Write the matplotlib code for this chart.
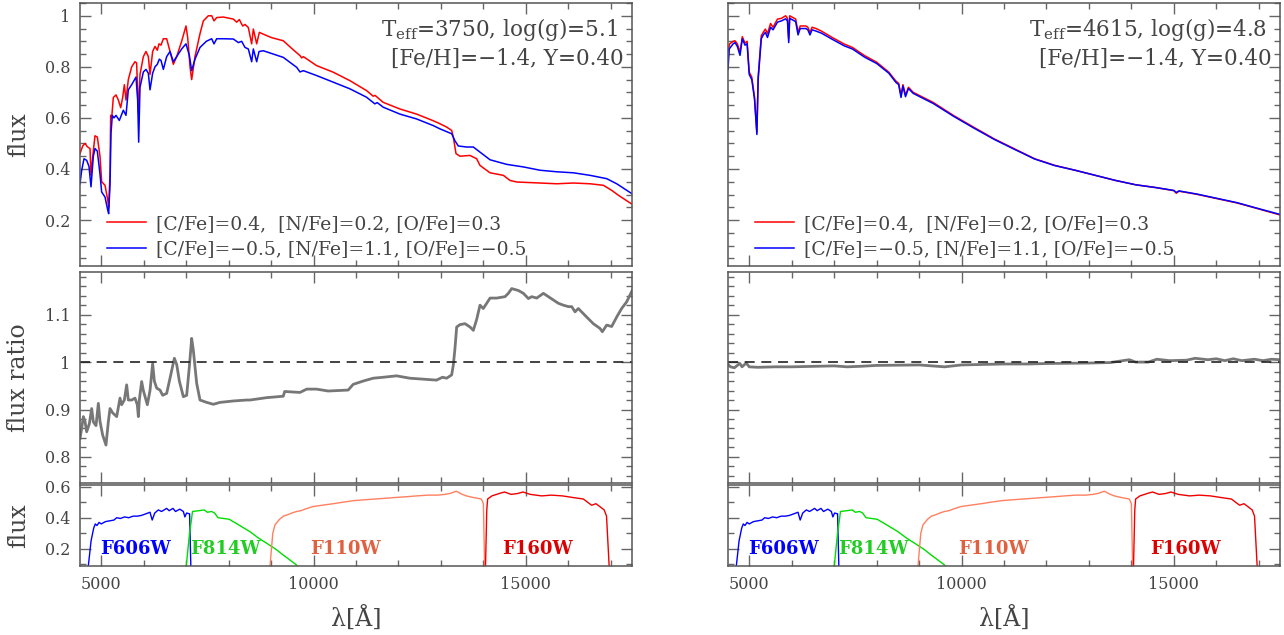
import numpy as np
import matplotlib
matplotlib.use("Agg")
import matplotlib.pyplot as plt
from matplotlib.ticker import MultipleLocator

plt.rcParams['font.family'] = ['DejaVu Serif']
plt.rcParams['mathtext.fontset'] = 'dejavuserif'

TXT = '#444444'
AXC = '#555555'

# ---- left star (Teff=3750) spectra ----
wl_red_l = [4500, 4563, 4618, 4673, 4736, 4759, 4800, 4853, 4908, 4971, 5010, 5089, 5152, 5175, 5207,
            5222, 5246, 5285, 5348, 5403, 5458, 5505, 5544, 5583, 5638, 5717, 5795, 5834, 5874, 5913,
            5992, 6054, 6109, 6149, 6211, 6266, 6321, 6360, 6408, 6463, 6541, 6620, 6698, 6777, 6894,
            6996, 7036, 7091, 7130, 7208, 7326, 7405, 7522, 7601, 7656, 7719, 7876, 8111, 8190, 8252,
            8331, 8386, 8464, 8543, 8582, 8661, 8723, 8817, 9000, 9288, 9500, 9681, 9720, 9760, 10070,
            10463, 10855, 11248, 11405, 11450, 11640, 12033, 12425, 12818, 12978, 13135, 13253, 13292,
            13355, 13449, 13685, 13842, 13920, 14000, 14157, 14471, 14628, 14785, 15335, 15727, 16120,
            16513, 16827, 17023, 17180, 17500]
fx_red_l = [0.46, 0.49, 0.50, 0.487, 0.48, 0.375, 0.45, 0.53, 0.525, 0.45, 0.35, 0.336, 0.28, 0.25, 0.38,
            0.61, 0.60, 0.68, 0.69, 0.67, 0.64, 0.68, 0.73, 0.67, 0.75, 0.80, 0.82, 0.815, 0.62, 0.77,
            0.84, 0.86, 0.84, 0.77, 0.86, 0.88, 0.865, 0.89, 0.885, 0.91, 0.91, 0.86, 0.81, 0.84, 0.90,
            0.96, 0.915, 0.80, 0.75, 0.84, 0.93, 0.98, 1.0, 1.0, 0.98, 0.993, 0.995, 0.987, 0.975, 0.985,
            0.96, 0.966, 0.954, 0.89, 0.948, 0.89, 0.935, 0.928, 0.915, 0.902, 0.87, 0.844, 0.835, 0.84, 0.805,
            0.779, 0.746, 0.707, 0.685, 0.688, 0.661, 0.635, 0.615, 0.589, 0.577, 0.564, 0.551, 0.525,
            0.46, 0.45, 0.453, 0.44, 0.414, 0.404, 0.385, 0.375, 0.355, 0.349, 0.345, 0.342, 0.345,
            0.342, 0.336, 0.316, 0.297, 0.262]

wl_blue_l = [4500, 4540, 4594, 4657, 4712, 4759, 4814, 4853, 4908, 4971, 5010, 5089, 5152, 5175, 5207,
             5230, 5261, 5300, 5348, 5426, 5520, 5583, 5638, 5717, 5819, 5858, 5882, 5913, 5992, 6054,
             6109, 6149, 6211, 6266, 6321, 6368, 6408, 6463, 6541, 6620, 6698, 6777, 6894, 6996, 7075,
             7130, 7208, 7326, 7475, 7601, 7656, 7719, 7876, 8111, 8229, 8307, 8386, 8464, 8543, 8582,
             8661, 8716, 8817, 9288, 9603, 9681, 9760, 10070, 10463, 10855, 11248, 11444, 11500, 11640,
             12033, 12425, 12818, 12978, 13253, 13331, 13410, 13606, 13763, 13920, 14157, 14549, 14942,
             15335, 15727, 16120, 16513, 16905, 17140, 17500]
fx_blue_l = [0.342, 0.395, 0.44, 0.434, 0.41, 0.33, 0.45, 0.48, 0.47, 0.38, 0.31, 0.29, 0.24, 0.225, 0.34,
             0.54, 0.61, 0.60, 0.61, 0.59, 0.63, 0.61, 0.71, 0.73, 0.76, 0.67, 0.505, 0.72, 0.78, 0.79,
             0.775, 0.71, 0.775, 0.80, 0.81, 0.83, 0.825, 0.79, 0.84, 0.86, 0.82, 0.84, 0.87, 0.89, 0.845,
             0.785, 0.83, 0.876, 0.90, 0.91, 0.89, 0.91, 0.91, 0.909, 0.895, 0.90, 0.876, 0.87, 0.82, 0.87,
             0.82, 0.86, 0.863, 0.837, 0.798, 0.78, 0.785, 0.766, 0.74, 0.714, 0.681, 0.655, 0.66, 0.642,
             0.615, 0.596, 0.57, 0.557, 0.538, 0.51, 0.49, 0.486, 0.486, 0.466, 0.436, 0.418, 0.408,
             0.395, 0.389, 0.385, 0.375, 0.362, 0.342, 0.303]

wl_ratio_l = [4500, 4539, 4579, 4618, 4657, 4720, 4775, 4814, 4877, 4932, 4971, 5034, 5112, 5167, 5207,
              5269, 5364, 5442, 5481, 5544, 5599, 5638, 5717, 5795, 5850, 5874, 5897, 5952, 5992, 6086,
              6149, 6211, 6251, 6306, 6384, 6447, 6541, 6620, 6722, 6777, 6840, 6934, 7012, 7075, 7130,
              7169, 7248, 7326, 7483, 7640, 7797, 8111, 8425, 8504, 8896, 9288, 9320, 9681, 9838, 10070,
              10345, 10816, 10933, 11169, 11405, 11640, 11954, 12268, 12582, 12896, 13037, 13135, 13253,
              13292, 13331, 13371, 13449, 13567, 13685, 13763, 13842, 13920, 13998, 14157, 14314, 14510,
              14588, 14667, 14824, 14942, 15060, 15138, 15256, 15413, 15530, 15766, 15884, 16001, 16080,
              16158, 16236, 16432, 16589, 16746, 16801, 16903, 17021, 17139, 17256, 17374, 17500]
fx_ratio_l = [0.839, 0.86, 0.885, 0.875, 0.853, 0.87, 0.902, 0.874, 0.866, 0.913, 0.875, 0.846, 0.825, 0.874, 0.902,
              0.893, 0.885, 0.924, 0.91, 0.92, 0.952, 0.92, 0.92, 0.924, 0.91, 0.885, 0.92, 0.959, 0.94, 0.91,
              0.94, 0.997, 0.96, 0.945, 0.941, 0.93, 0.934, 0.966, 1.008, 0.995, 0.96, 0.927, 0.93, 0.99, 1.05,
              1.025, 0.955, 0.92, 0.915, 0.911, 0.915, 0.918, 0.92, 0.92, 0.925, 0.928, 0.938, 0.936, 0.943, 0.943,
              0.939, 0.941, 0.953, 0.96, 0.966, 0.968, 0.971, 0.966, 0.964, 0.962, 0.968, 0.966, 0.973,
              0.994, 1.029, 1.074, 1.079, 1.081, 1.074, 1.067, 1.09, 1.12, 1.113, 1.135, 1.135, 1.138,
              1.145, 1.155, 1.151, 1.145, 1.134, 1.138, 1.135, 1.145, 1.138, 1.124, 1.12, 1.117, 1.117,
              1.106, 1.113, 1.095, 1.081, 1.071, 1.064, 1.078, 1.075, 1.095, 1.113, 1.127, 1.15]

# ---- right star (Teff=4615) spectra ----
wl_red_r = [4500, 4540, 4620, 4665, 4720, 4783, 4837, 4900, 4950, 5000, 5060, 5124, 5180, 5210, 5284,
            5330, 5380, 5430, 5503, 5560, 5665, 5760, 5857, 5900, 5930, 5953, 6094, 6150, 6200, 6335,
            6380, 6430, 6480, 6574, 6700, 6954, 7240, 7430, 7716, 8002, 8288, 8450, 8520, 8575, 8620,
            8680, 8750, 8862, 9338, 9815, 10292, 10768, 11245, 11722, 12199, 12674, 13151, 13628, 14104,
            14582, 15000, 15058, 15120, 15536, 16012, 16488, 16966, 17500]
fx_red_r = [0.86, 0.89, 0.90, 0.902, 0.89, 0.857, 0.918, 0.893, 0.90, 0.779, 0.76, 0.681, 0.544, 0.76, 0.922,
            0.935, 0.948, 0.93, 0.97, 0.955, 0.987, 0.99, 1.0, 0.99, 0.91, 1.0, 0.987, 0.935, 0.96, 0.96,
            0.955, 0.935, 0.955, 0.95, 0.94, 0.915, 0.889, 0.876, 0.844, 0.818, 0.779, 0.745, 0.735, 0.688, 0.73,
            0.69, 0.72, 0.70, 0.66, 0.609, 0.563, 0.518, 0.479, 0.44, 0.414, 0.395, 0.375, 0.355, 0.338,
            0.327, 0.315, 0.305, 0.313, 0.301, 0.284, 0.267, 0.245, 0.22]

wl_blue_r = [4500, 4530, 4620, 4665, 4720, 4783, 4837, 4900, 4950, 5000, 5060, 5124, 5180, 5210, 5284,
             5330, 5380, 5430, 5503, 5560, 5665, 5760, 5857, 5900, 5930, 5953, 6094, 6150, 6200, 6335,
             6380, 6430, 6480, 6574, 6700, 6954, 7240, 7430, 7716, 8002, 8288, 8450, 8520, 8575, 8620,
             8680, 8750, 8862, 9338, 9815, 10292, 10768, 11245, 11722, 12199, 12674, 13151, 13628, 14104,
             14582, 15000, 15058, 15120, 15536, 16012, 16488, 16966, 17500]
fx_blue_r = [0.79, 0.87, 0.89, 0.895, 0.88, 0.845, 0.91, 0.885, 0.89, 0.77, 0.75, 0.675, 0.535, 0.75, 0.91,
             0.925, 0.935, 0.915, 0.955, 0.945, 0.975, 0.98, 0.988, 0.98, 0.895, 0.99, 0.977, 0.925, 0.95, 0.95,
             0.945, 0.925, 0.945, 0.94, 0.932, 0.908, 0.882, 0.87, 0.838, 0.813, 0.775, 0.74, 0.73, 0.68, 0.725,
             0.683, 0.715, 0.696, 0.656, 0.606, 0.56, 0.516, 0.477, 0.439, 0.413, 0.395, 0.375, 0.355, 0.338,
             0.327, 0.316, 0.308, 0.314, 0.302, 0.285, 0.268, 0.246, 0.222]

wl_ratio_r = [4500, 4560, 4650, 4720, 4780, 4830, 4880, 4930, 5000, 5200, 5600, 6000, 7000, 7300, 7600,
              8000, 9000, 9600, 10000, 11000, 11600, 12000, 13000, 13500, 13950, 14100, 14400, 14600,
              14900, 15300, 15500, 15800, 16000, 16200, 16400, 16600, 16900, 17100, 17300, 17500]
fx_ratio_r = [0.995, 0.99, 0.988, 0.993, 0.997, 0.99, 0.994, 0.998, 0.99, 0.989, 0.99, 0.99, 0.992, 0.99, 0.991,
              0.993, 0.994, 0.99, 0.994, 0.996, 0.996, 0.997, 0.998, 0.999, 1.005, 1.0, 1.0, 1.006,
              1.003, 1.004, 1.008, 1.005, 1.007, 1.003, 1.007, 1.003, 1.006, 1.003, 1.006, 1.005]

# ---- filter throughputs ----
wl_f606 = [4696, 4760, 4822, 4860, 4900, 4950, 5000, 5100, 5200, 5300, 5364, 5450, 5550, 5650, 5750,
           5854, 5950, 6050, 6149, 6200, 6260, 6345, 6420, 6541, 6600, 6688, 6750, 6850, 6934, 6970,
           7010, 7081, 7110]
tr_f606 = [0.09, 0.25, 0.333, 0.36, 0.35, 0.37, 0.36, 0.375, 0.38, 0.385, 0.40, 0.395, 0.405, 0.40, 0.41,
           0.41, 0.415, 0.425, 0.435, 0.385, 0.43, 0.45, 0.44, 0.46, 0.445, 0.46, 0.44, 0.455, 0.44, 0.405,
           0.43, 0.425, 0.09]
wl_f814 = [7002, 7080, 7150, 7300, 7425, 7500, 7600, 7670, 7750, 8013, 8200, 8504, 8700, 8896, 9100,
           9288, 9583, 9620]
tr_f814 = [0.09, 0.30, 0.44, 0.445, 0.45, 0.435, 0.44, 0.43, 0.40, 0.39, 0.36, 0.31, 0.27, 0.236, 0.20,
           0.16, 0.10, 0.09]
wl_f110 = [8975, 9040, 9092, 9200, 9288, 9400, 9485, 9600, 9700, 9800, 9975, 10200, 10466, 10700, 10957,
           11200, 11448, 11700, 11939, 12200, 12430, 12700, 12920, 13100, 13215, 13362, 13500, 13600,
           13755, 13951, 14000, 14029]
tr_f110 = [0.09, 0.30, 0.354, 0.39, 0.41, 0.42, 0.43, 0.44, 0.445, 0.455, 0.471, 0.48, 0.49, 0.50, 0.51,
           0.515, 0.52, 0.525, 0.53, 0.535, 0.54, 0.545, 0.545, 0.55, 0.556, 0.57, 0.55, 0.54,
           0.53, 0.52, 0.49, 0.09]
wl_f160 = [14050, 14080, 14100, 14200, 14392, 14500, 14650, 14800, 14933, 15100, 15373, 15600, 15864,
           16100, 16355, 16500, 16551, 16650, 16750, 16845, 16900, 16962]
tr_f160 = [0.09, 0.45, 0.52, 0.54, 0.557, 0.565, 0.55, 0.555, 0.565, 0.55, 0.54, 0.545, 0.54,
           0.53, 0.52, 0.49, 0.48, 0.49, 0.47, 0.45, 0.41, 0.09]

filter_names = ['F606W', 'F814W', 'F110W', 'F160W']
filter_colors = ['#0000ff', '#00dd00', '#ff8060', '#ee0000']
filter_text_colors = ['#0000ff', '#22cc22', '#e06040', '#dd0000']
filter_label_x = [5800, 7920, 10760, 15280]

labels = ['[C/Fe]=0.4,  [N/Fe]=0.2, [O/Fe]=0.3', '[C/Fe]=\u22120.5, [N/Fe]=1.1, [O/Fe]=\u22120.5']
params = [['T$_{\\rm eff}$=3750, log(g)=5.1', '[Fe/H]=\u22121.4, Y=0.40'],
          ['T$_{\\rm eff}$=4615, log(g)=4.8', '[Fe/H]=\u22121.4, Y=0.40']]

W, H = 1284, 635
fig = plt.figure(figsize=(W / 100, H / 100), dpi=100)


def box(x0, y0, x1, y1):
    return [x0 / W, 1 - y1 / H, (x1 - x0) / W, (y1 - y0) / H]


def style(ax, major_y, minor_y):
    ax.set_xlim(4500, 17500)
    ax.xaxis.set_major_locator(MultipleLocator(5000))
    ax.xaxis.set_minor_locator(MultipleLocator(1000))
    ax.yaxis.set_major_locator(MultipleLocator(major_y))
    ax.yaxis.set_minor_locator(MultipleLocator(minor_y))
    ax.tick_params(which='both', direction='in', top=True, right=True, colors='#666666',
                   labelcolor=TXT, labelsize=11.5, width=1, pad=7)
    ax.tick_params(which='major', length=8)
    ax.tick_params(which='minor', length=4)
    for s in ax.spines.values():
        s.set_color(AXC)
        s.set_linewidth(1.1)


cols = [(80, 632), (728, 1280)]
spectra = [(wl_red_l, fx_red_l, wl_blue_l, fx_blue_l, wl_ratio_l, fx_ratio_l),
           (wl_red_r, fx_red_r, wl_blue_r, fx_blue_r, wl_ratio_r, fx_ratio_r)]
filters = [(wl_f606, tr_f606), (wl_f814, tr_f814), (wl_f110, tr_f110), (wl_f160, tr_f160)]

for i, (x0, x1) in enumerate(cols):
    wr, fr, wb, fb, wq, fq = spectra[i]

    ax1 = fig.add_axes(box(x0, 3, x1, 266))
    ax1.plot(wr, fr, color='#ff0000', lw=1.1, label=labels[0])
    ax1.plot(wb, fb, color='#0000ff', lw=1.1, label=labels[1])
    ax1.set_ylim(0.02, 1.05)
    style(ax1, 0.2, 0.05)
    ax1.set_yticks([0.2, 0.4, 0.6, 0.8, 1.0])
    ax1.set_yticklabels(['0.2', '0.4', '0.6', '0.8', '1'])
    ax1.tick_params(labelbottom=False)
    ax1.legend(loc='lower left', bbox_to_anchor=(0.035, 0.0), borderaxespad=0, frameon=False,
               fontsize=13.5, handlelength=2.1, handletextpad=0.5, labelspacing=0.42,
               labelcolor=TXT)
    ax1.text(0.975, 0.95, params[i][0], transform=ax1.transAxes, ha='right', va='top',
             fontsize=15.5, color=TXT)
    ax1.text(0.985, 0.83, params[i][1], transform=ax1.transAxes, ha='right', va='top',
             fontsize=15.5, color=TXT)

    ax2 = fig.add_axes(box(x0, 272, x1, 483))
    ax2.plot(wq, fq, color='#777777', lw=2)
    ax2.axhline(1.0, color='#222222', lw=1.2, ls=(0, (6, 4)))
    ax2.set_ylim(0.745, 1.19)
    style(ax2, 0.1, 0.02)
    ax2.set_yticks([0.8, 0.9, 1.0, 1.1])
    ax2.set_yticklabels(['0.8', '0.9', '1', '1.1'])
    ax2.tick_params(labelbottom=False)

    ax3 = fig.add_axes(box(x0, 485, x1, 566))
    for (wf, tf), c, tc, name, lx in zip(filters, filter_colors, filter_text_colors,
                                         filter_names, filter_label_x):
        ax3.plot(wf, tf, color=c, lw=1)
        ax3.text(lx, 0.2, name, color=tc, fontsize=13, fontweight='bold',
                 ha='center', va='center')
    ax3.set_ylim(0.09, 0.61)
    style(ax3, 0.2, 0.1)
    ax3.set_yticks([0.2, 0.4, 0.6])
    ax3.set_yticklabels(['0.2', '0.4', '0.6'])
    ax3.set_xticks([5000, 10000, 15000])
    ax3.set_xticklabels(['5000', '10000', '15000'])
    ax3.set_xlabel('\u03bb[\u00c5]', fontsize=17, color=TXT, labelpad=10)

    if i == 0:
        ax1.set_ylabel('flux', fontsize=17, color=TXT)
        ax2.set_ylabel('flux ratio', fontsize=17, color=TXT)
        ax3.set_ylabel('flux', fontsize=17, color=TXT)
        for a in (ax1, ax2, ax3):
            a.yaxis.set_label_coords(-0.09, 0.5)
    else:
        for a in (ax1, ax2, ax3):
            a.tick_params(labelleft=False)

fig.savefig('out.png', dpi=100)
